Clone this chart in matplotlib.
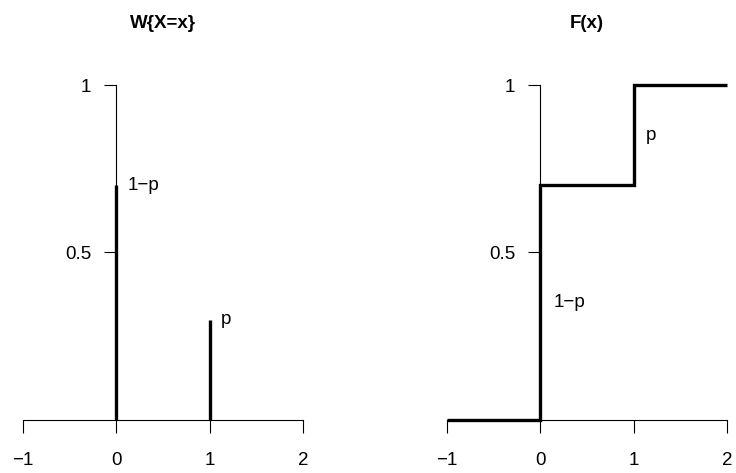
import matplotlib.pyplot as plt

plt.rcParams['font.family'] = ['Liberation Sans', 'DejaVu Sans']

# point masses of the Bernoulli variable
support = [0, 1]
probs = [0.7, 0.3]
prob_labels = ['1\u2212p', 'p']

# distribution function as a step curve
cdf_x = [-1, 0, 0, 1, 1, 2]
cdf_y = [0, 0, 0.7, 0.7, 1, 1]

xticks = [-1, 0, 1, 2]
xtick_labels = ['\u22121', '0', '1', '2']
yticks = [0.5, 1]
ytick_labels = ['0.5', '1']

fig = plt.figure(figsize=(7.36, 4.73), dpi=100)
ax1 = fig.add_axes([23 / 736, 53 / 473, 280 / 736, 335 / 473])
ax2 = fig.add_axes([447 / 736, 53 / 473, 280 / 736, 335 / 473])


def style_axes(ax, title):
    ax.set_xlim(-1, 2)
    ax.set_ylim(0, 1)
    for side in ('top', 'right'):
        ax.spines[side].set_visible(False)
    ax.spines['left'].set_position(('data', 0))
    ax.spines['left'].set_bounds(0, 1)
    ax.spines['bottom'].set_bounds(-1, 2)
    ax.spines['left'].set_linewidth(0.8)
    ax.spines['bottom'].set_linewidth(0.8)
    ax.set_xticks(xticks)
    ax.set_xticklabels(xtick_labels)
    ax.set_yticks(yticks)
    ax.set_yticklabels(ytick_labels)
    ax.tick_params(axis='x', direction='out', length=9, width=0.8, pad=14, labelsize=13.5)
    ax.tick_params(axis='y', direction='out', length=9, width=0.8, pad=9, labelsize=13.5)
    ax.set_title(title, fontsize=13.5, fontweight='bold', pad=41)
    ax.patch.set_visible(False)


style_axes(ax1, 'W{X=x}')
ax1.vlines(support, 0, probs, colors='black', linewidth=2.4, clip_on=False, zorder=3)
for x, p, lab in zip(support, probs, prob_labels):
    ax1.text(x + 0.12, p, lab, fontsize=13.5, va='center', ha='left')

style_axes(ax2, 'F(x)')
ax2.plot(cdf_x, cdf_y, color='black', linewidth=2.4, clip_on=False, zorder=3,
         solid_capstyle='butt', solid_joinstyle='miter')
ax2.text(0.14, 0.35, '1\u2212p', fontsize=13.5, va='center', ha='left')
ax2.text(1.13, 0.85, 'p', fontsize=13.5, va='center', ha='left')

fig.savefig('out.png', dpi=100)
